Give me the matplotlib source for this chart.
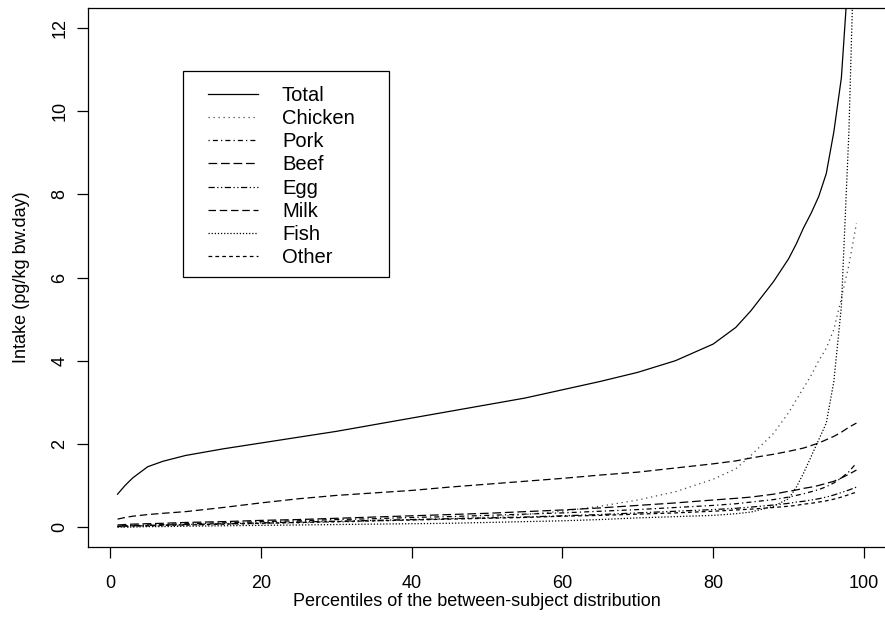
import matplotlib
matplotlib.use("Agg")
import matplotlib.pyplot as plt
from matplotlib.patches import Rectangle

plt.rcParams["font.family"] = ["Liberation Sans", "DejaVu Sans"]

# Percentiles at which the intake distribution is tabulated
percentiles = [1, 2, 3, 5, 7, 10, 15, 20, 25, 30, 35, 40, 45, 50, 55, 60, 65,
               70, 75, 80, 83, 85, 88, 90, 91, 92, 93, 94, 95, 96, 97, 98, 99]

# Intake (pg/kg bw.day) per food group at each percentile
total = [0.79, 1.00, 1.18, 1.45, 1.58, 1.72, 1.88, 2.02, 2.16, 2.30, 2.46, 2.62,
         2.78, 2.94, 3.10, 3.30, 3.50, 3.72, 4.00, 4.40, 4.80, 5.20, 5.90, 6.45,
         6.80, 7.20, 7.55, 7.95, 8.50, 9.50, 10.80, 13.50, 18.00]
chicken = [0.00, 0.00, 0.01, 0.02, 0.03, 0.04, 0.06, 0.08, 0.10, 0.12, 0.14,
           0.17, 0.20, 0.24, 0.30, 0.38, 0.50, 0.65, 0.85, 1.15, 1.40, 1.72,
           2.25, 2.75, 3.05, 3.35, 3.65, 4.00, 4.30, 4.75, 5.50, 6.30, 7.30]
pork = [0.02, 0.03, 0.04, 0.05, 0.06, 0.08, 0.10, 0.13, 0.15, 0.18, 0.20, 0.23,
        0.25, 0.28, 0.31, 0.34, 0.38, 0.42, 0.47, 0.52, 0.56, 0.60, 0.66, 0.72,
        0.76, 0.80, 0.85, 0.90, 0.97, 1.06, 1.18, 1.33, 1.54]
beef = [0.05, 0.06, 0.07, 0.08, 0.09, 0.11, 0.13, 0.16, 0.18, 0.21, 0.24, 0.27,
        0.30, 0.33, 0.37, 0.41, 0.46, 0.52, 0.58, 0.65, 0.69, 0.72, 0.79, 0.86,
        0.89, 0.93, 0.96, 1.00, 1.05, 1.10, 1.18, 1.27, 1.37]
egg = [0.02, 0.03, 0.03, 0.04, 0.05, 0.06, 0.08, 0.10, 0.12, 0.14, 0.16, 0.18,
       0.20, 0.22, 0.24, 0.27, 0.30, 0.34, 0.38, 0.42, 0.45, 0.48, 0.53, 0.57,
       0.60, 0.62, 0.65, 0.68, 0.72, 0.77, 0.83, 0.89, 0.96]
milk = [0.19, 0.23, 0.26, 0.30, 0.33, 0.37, 0.47, 0.58, 0.68, 0.76, 0.82, 0.88,
        0.96, 1.03, 1.10, 1.17, 1.25, 1.32, 1.42, 1.52, 1.59, 1.66, 1.75, 1.82,
        1.86, 1.90, 1.96, 2.02, 2.10, 2.18, 2.28, 2.40, 2.50]
fish = [0.00, 0.00, 0.00, 0.01, 0.01, 0.02, 0.03, 0.04, 0.05, 0.06, 0.07, 0.08,
        0.09, 0.11, 0.13, 0.15, 0.18, 0.22, 0.25, 0.28, 0.32, 0.36, 0.50, 0.68,
        0.95, 1.30, 1.70, 2.10, 2.50, 3.50, 5.30, 9.50, 16.00]
other = [0.01, 0.02, 0.03, 0.03, 0.04, 0.05, 0.07, 0.09, 0.11, 0.13, 0.15, 0.17,
         0.19, 0.21, 0.23, 0.26, 0.28, 0.31, 0.34, 0.38, 0.41, 0.43, 0.47, 0.50,
         0.52, 0.55, 0.57, 0.60, 0.63, 0.67, 0.72, 0.78, 0.84]

series_names = ["Total", "Chicken", "Pork", "Beef", "Egg", "Milk", "Fish", "Other"]
series_values = [total, chicken, pork, beef, egg, milk, fish, other]
line_styles = [
    "-",
    (0, (1, 3)),
    (0, (1, 2.5, 4, 2.5)),
    (0, (7, 3)),
    (0, (5, 2, 1, 2, 1, 2)),
    (0, (6, 3)),
    (0, (1, 1.5)),
    (0, (3, 2.5)),
]
line_colors = ["black", "#444444", "black", "black", "black", "black", "black", "black"]

W, H = 885, 643
fig = plt.figure(figsize=(W / 100, H / 100), dpi=100)
ax = fig.add_axes([88 / W, 96 / H, 798 / W, 539 / H])

for name, vals, ls, col in zip(series_names, series_values, line_styles, line_colors):
    ax.plot(percentiles, vals, linestyle=ls, color=col, linewidth=0.9, label=name)

ax.set_xlim(1 - 0.04 * 98, 99 + 0.04 * 98)
ax.set_ylim(-0.48, 12.48)
ax.set_xticks([0, 20, 40, 60, 80, 100])
ax.set_yticks([0, 2, 4, 6, 8, 10, 12])
ax.tick_params(axis="x", direction="out", length=8, width=0.9, pad=12, labelsize=13)
ax.tick_params(axis="y", direction="out", length=8, width=0.9, pad=6, labelsize=13,
               labelrotation=90)
for lab in ax.get_yticklabels():
    lab.set_va("center")
for sp in ax.spines.values():
    sp.set_linewidth(0.9)

fig.text(477 / W, 1 - 602 / H, "Percentiles of the between-subject distribution",
         ha="center", va="center", fontsize=13)
fig.text(22 / W, 1 - 277 / H, "Intake (pg/kg bw.day)", rotation=90,
         ha="center", va="center", fontsize=13)

# Legend box outline
fig.patches.append(Rectangle((183 / W, 1 - 277 / H), (389 - 183) / W, (277 - 71) / H,
                             transform=fig.transFigure, fill=False,
                             edgecolor="black", linewidth=0.9))

leg = fig.legend(*ax.get_legend_handles_labels(), loc="center left",
                 bbox_to_anchor=(208 / W, 1 - 176.5 / H),
                 frameon=False, fontsize=14.5,
                 handlelength=2.48, handletextpad=1.19, labelspacing=0.21,
                 borderpad=0, borderaxespad=0)

fig.savefig("out.png", dpi=100)
